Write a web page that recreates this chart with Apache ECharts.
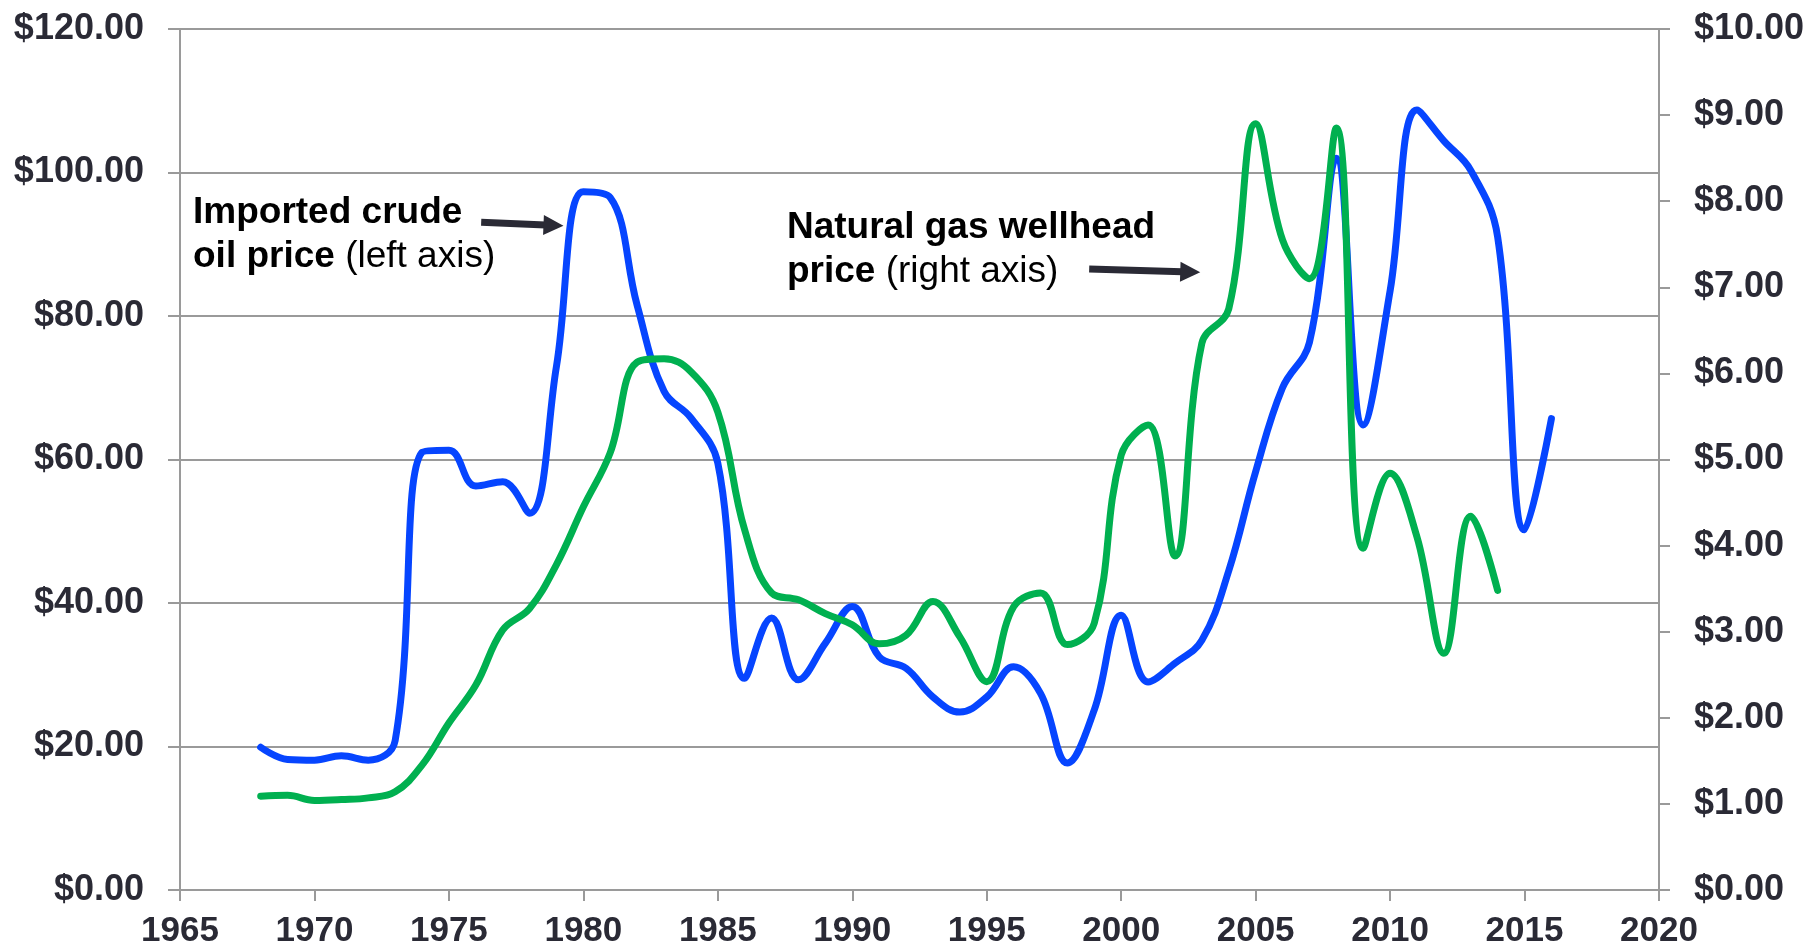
<!DOCTYPE html>
<html>
<head>
<meta charset="utf-8">
<title>Imported crude oil vs natural gas wellhead price</title>
<script src="https://cdn.jsdelivr.net/npm/echarts@6/dist/echarts.min.js"></script>
<style>
  html, body { margin: 0; padding: 0; background: #fff; }
  #chart { width: 1810px; height: 951px; }
</style>
</head>
<body>
<div id="chart"></div>
<script>
// imported crude oil price, $/barrel (left axis), 1968-2016
const oilYears = []
for (let y = 1968; y <= 2016; y++) oilYears.push(y)
const oilPrice = [
  19.9, 18.2, 18.1, 18.7, 18.1, 20.8, 61.0, 61.3, 56.3, 56.9,
  52.5, 73.0, 97.3, 96.5, 81.5, 69.5, 65.8, 59.5, 29.5, 37.9,
  29.3, 34.4, 39.5, 32.5, 30.9, 26.9, 24.8, 26.9, 31.1, 27.4,
  17.7, 25.1, 38.3, 29.0, 31.6, 34.8, 44.5, 58.3, 70.0, 76.3,
  102.0, 64.8, 83.5, 108.7, 104.4, 100.3, 91.0, 50.2, 65.7
]

// natural gas wellhead price, $/Mcf (right axis), 1968-2014
const gasYears = []
for (let y = 1968; y <= 2014; y++) gasYears.push(y)
const gasPrice = [
  1.09, 1.10, 1.04, 1.05, 1.07, 1.14, 1.45, 1.94, 2.38, 3.02,
  3.27, 3.78, 4.45, 5.08, 6.13, 6.17, 6.02, 5.55, 4.18, 3.45,
  3.37, 3.21, 3.08, 2.86, 2.96, 3.35, 2.94, 2.42, 3.29, 3.45,
  2.85, 3.10, 5.05, 5.40, 3.88, 6.35, 6.75, 8.90, 7.55, 7.10,
  8.85, 3.97, 4.84, 4.10, 2.75, 4.34, 3.48
]

// annotation arrows, [start, tip] in data units [year, value]
const oilArrow = [[1976.2, 93.06], [1979.26, 92.58]]
const gasArrow = [[1998.81, 7.213], [2002.94, 7.174]]

const axisGray = '#9a9a9a'
const labelColor = '#2a2a35'
const labelFont = {
  color: labelColor,
  fontFamily: 'Liberation Sans, Arial, sans-serif',
  fontWeight: 'bold',
  fontSize: 36
}
const money = v => '$' + v.toFixed(2)

const chart = echarts.init(document.getElementById('chart'))

const richStyle = {
  b: { fontFamily: 'Liberation Sans, Arial', fontWeight: 'bold', fontSize: 37, lineHeight: 44, fill: '#000' },
  r: { fontFamily: 'Liberation Sans, Arial', fontSize: 37, lineHeight: 44, fill: '#000' }
}

chart.setOption({
  animation: false,
  backgroundColor: '#fff',
  grid: { left: 180, right: 151, top: 29, bottom: 61, containLabel: false },
  xAxis: {
    type: 'value',
    min: 1965,
    max: 2020,
    interval: 5,
    axisLine: { show: true, lineStyle: { color: axisGray, width: 2 } },
    axisTick: { show: true, length: 11, lineStyle: { color: axisGray, width: 2 } },
    splitLine: { show: false },
    axisLabel: Object.assign({ margin: 24, formatter: v => String(v) }, labelFont, { fontSize: 35 })
  },
  yAxis: [{
    type: 'value',
    min: 0,
    max: 120,
    interval: 20,
    axisLine: { show: true, lineStyle: { color: axisGray, width: 2 } },
    axisTick: { show: true, length: 12, lineStyle: { color: axisGray, width: 2 } },
    splitLine: { show: true, lineStyle: { color: axisGray, width: 2 } },
    axisLabel: Object.assign({ margin: 36, formatter: money }, labelFont)
  }, {
    type: 'value',
    position: 'right',
    min: 0,
    max: 10,
    interval: 1,
    axisLine: { show: true, lineStyle: { color: axisGray, width: 2 } },
    axisTick: { show: true, length: 11, lineStyle: { color: axisGray, width: 2 } },
    splitLine: { show: false },
    axisLabel: Object.assign({ margin: 35, formatter: money }, labelFont)
  }],
  series: [{
    name: 'Imported crude oil price',
    type: 'line',
    yAxisIndex: 0,
    smooth: 0.4,
    showSymbol: false,
    lineStyle: { color: '#0645ff', width: 7, cap: 'round', join: 'round' },
    data: oilYears.map((y, i) => [y, oilPrice[i]])
  }, {
    name: 'Natural gas wellhead price',
    type: 'line',
    yAxisIndex: 1,
    smooth: 0.4,
    showSymbol: false,
    lineStyle: { color: '#00b050', width: 7, cap: 'round', join: 'round' },
    data: gasYears.map((y, i) => [y, gasPrice[i]])
  }]
})

// arrows: convert data coords to pixels, then draw shaft + head
function arrowGraphic(pts, yAxisIndex) {
  const finder = { xAxisIndex: 0, yAxisIndex: yAxisIndex }
  const a = chart.convertToPixel(finder, pts[0])
  const b = chart.convertToPixel(finder, pts[1])
  const dx = b[0] - a[0], dy = b[1] - a[1]
  const len = Math.sqrt(dx * dx + dy * dy)
  const ux = dx / len, uy = dy / len
  const headLen = 20, halfW = 10
  const base = [b[0] - ux * headLen, b[1] - uy * headLen]
  return [{
    type: 'line',
    silent: true,
    shape: { x1: a[0], y1: a[1], x2: base[0] + ux * 2, y2: base[1] + uy * 2 },
    style: { stroke: '#2a2a35', lineWidth: 7 }
  }, {
    type: 'polygon',
    silent: true,
    shape: {
      points: [
        b,
        [base[0] - uy * halfW, base[1] + ux * halfW],
        [base[0] + uy * halfW, base[1] - ux * halfW]
      ]
    },
    style: { fill: '#2a2a35' }
  }]
}

chart.setOption({
  graphic: [{
    type: 'text',
    left: 193,
    top: 194,
    style: {
      text: '{b|Imported crude}\n{b|oil price}{r| (left axis)}',
      rich: richStyle
    }
  }, {
    type: 'text',
    left: 787,
    top: 209,
    style: {
      text: '{b|Natural gas wellhead}\n{b|price}{r| (right axis)}',
      rich: richStyle
    }
  }].concat(arrowGraphic(oilArrow, 0), arrowGraphic(gasArrow, 1))
})
</script>
</body>
</html>
